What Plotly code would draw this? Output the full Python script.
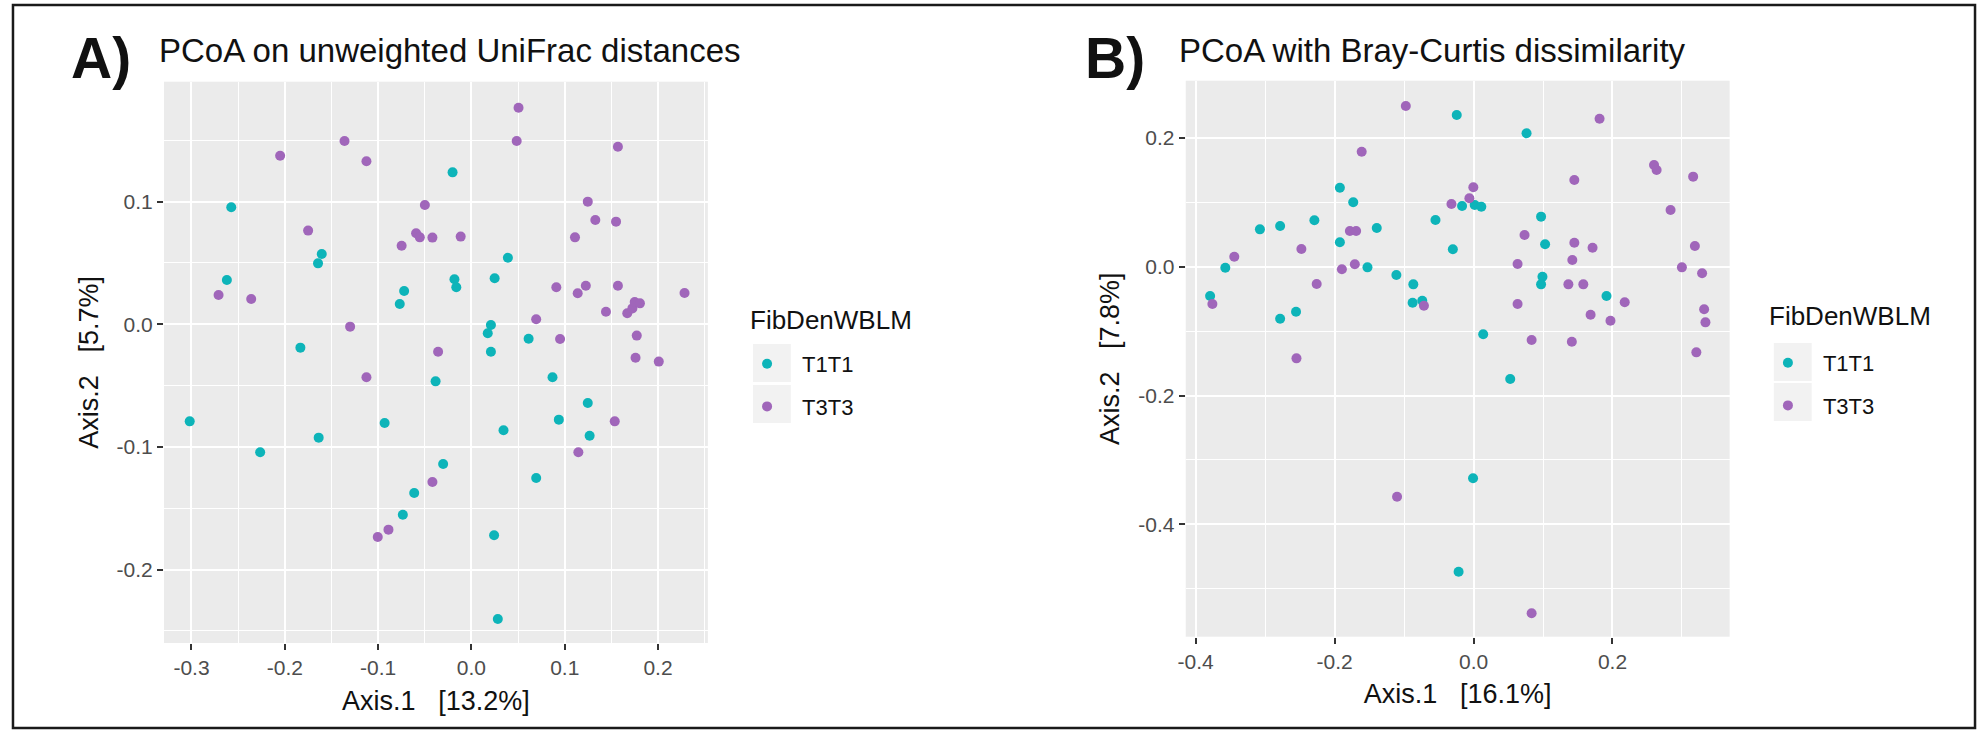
import plotly.graph_objects as go

W, H = 1980, 735

# ---------------- Panel A: PCoA on unweighted UniFrac ----------------
a_t1_x = [-0.0202, -0.2574, 0.0391, -0.1604, -0.1644, -0.2621, -0.0182, -0.0162,
          0.0249, -0.0721, -0.0768, 0.0209, 0.0175, 0.0613, -0.1833, 0.0209,
          -0.0384, 0.0869, -0.3019, -0.0930, 0.0344, 0.0937, 0.1247, 0.1267,
          -0.1637, -0.2264, -0.0303, 0.0694, -0.0613, -0.0735, 0.0243, 0.0283]
a_t1_y = [0.1239, 0.0954, 0.0543, 0.0573, 0.0497, 0.0361, 0.0367, 0.0302,
          0.0375, 0.0272, 0.0166, -0.0005, -0.0073, -0.0117, -0.0190, -0.0223,
          -0.0465, -0.0432, -0.0791, -0.0804, -0.0864, -0.0777, -0.0641, -0.0908,
          -0.0924, -0.1043, -0.1139, -0.1253, -0.1375, -0.1552, -0.1720, -0.2402]
a_t3_x = [0.0505, 0.0485, -0.1360, -0.2050, -0.1125, 0.1570, -0.0499, 0.1247,
          0.1328, 0.1550, -0.1750, -0.0593, -0.0553, -0.0418, -0.0115, -0.0748,
          0.1110, -0.2710, -0.2360, 0.0910, 0.1139, 0.1226, 0.1570, 0.2284,
          0.1442, 0.1670, 0.1725, 0.1750, 0.1806, 0.0694, -0.1300, -0.0357,
          0.0950, 0.1772, 0.1759, 0.2008, -0.1125, 0.1536, 0.1146, -0.0418,
          -0.0889, -0.1004]
a_t3_y = [0.1766, 0.1495, 0.1495, 0.1375, 0.1329, 0.1448, 0.0973, 0.1000,
          0.0851, 0.0837, 0.0764, 0.0742, 0.0709, 0.0707, 0.0715, 0.0641,
          0.0709, 0.0239, 0.0207, 0.0302, 0.0253, 0.0315, 0.0315, 0.0255,
          0.0103, 0.0090, 0.0130, 0.0182, 0.0171, 0.0041, -0.0019, -0.0223,
          -0.0120, -0.0092, -0.0272, -0.0304, -0.0432, -0.0791, -0.1043, -0.1285,
          -0.1674, -0.1734]

# ---------------- Panel B: PCoA with Bray-Curtis ----------------
b_t1_x = [-0.1924, -0.1732, -0.3075, -0.2784, -0.2291, -0.1393, -0.0548, -0.0298,
          -0.1924, -0.3573, -0.1527, -0.1111, -0.0867, -0.3792, -0.0877, -0.0738,
          -0.2555, -0.2784, -0.0165, 0.0017, 0.0112, 0.0972, 0.1030, 0.0992,
          0.0972, 0.1914, -0.0242, 0.0763, 0.0139, 0.0528, -0.0007, -0.0215]
b_t1_y = [0.1227, 0.1000, 0.0580, 0.0632, 0.0720, 0.0600, 0.0725, 0.0270,
          0.0379, -0.0016, -0.0010, -0.0129, -0.0274, -0.0455, -0.0559, -0.0528,
          -0.0699, -0.0807, 0.0943, 0.0958, 0.0932, 0.0777, 0.0348, -0.0155,
          -0.0274, -0.0455, 0.2356, 0.2071, -0.1050, -0.1744, -0.3286, -0.4736]
b_t3_x = [-0.1610, -0.0318, -0.1780, -0.1690, -0.2478, -0.3444, -0.1895, -0.1709,
          -0.2258, -0.3759, -0.0714, -0.0003, -0.0060, 0.1451, 0.2598, 0.2635,
          0.3161, 0.2836, 0.0734, 0.1451, 0.1713, 0.3186, 0.0634, 0.1422,
          0.2999, 0.3290, 0.1365, 0.1580, 0.0634, 0.2176, 0.1685, 0.1971,
          0.3319, 0.3338, -0.0975, 0.1814, 0.3207, -0.2549, 0.0836, 0.1415,
          -0.1101, 0.0836]
b_t3_y = [0.1786, 0.0974, 0.0554, 0.0554, 0.0275, 0.0155, -0.0040, 0.0037,
          -0.0269, -0.0580, -0.0606, 0.1233, 0.1062, 0.1346, 0.1580, 0.1502,
          0.1398, 0.0880, 0.0492, 0.0373, 0.0295, 0.0321, 0.0042, 0.0104,
          -0.0010, -0.0103, -0.0274, -0.0274, -0.0580, -0.0553, -0.0745, -0.0838,
          -0.0662, -0.0864, 0.2495, 0.2298, -0.1330, -0.1423, -0.1138, -0.1164,
          -0.3571, -0.5382]

# ---------------- ticks ----------------
a_xtick_vals = [-0.3, -0.2, -0.1, 0.0, 0.1, 0.2]
a_xtick_text = ["-0.3", "-0.2", "-0.1", "0.0", "0.1", "0.2"]
a_xminor = [-0.25, -0.15, -0.05, 0.05, 0.15, 0.25]
a_ytick_vals = [-0.2, -0.1, 0.0, 0.1]
a_ytick_text = ["-0.2", "-0.1", "0.0", "0.1"]
a_yminor = [-0.25, -0.15, -0.05, 0.05, 0.15]

b_xtick_vals = [-0.4, -0.2, 0.0, 0.2]
b_xtick_text = ["-0.4", "-0.2", "0.0", "0.2"]
b_xminor = [-0.3, -0.1, 0.1, 0.3]
b_ytick_vals = [-0.4, -0.2, 0.0, 0.2]
b_ytick_text = ["-0.4", "-0.2", "0.0", "0.2"]
b_yminor = [-0.5, -0.3, -0.1, 0.1]

groups = ["T1T1", "T3T3"]
legend_title = "FibDenWBLM"
TEAL = "#0DB4B9"
PURPLE = "#A066BA"
FONT = "Liberation Sans, Arial, sans-serif"


def fx(p):
    return p / W


def fy(p):
    return 1 - p / H


fig = go.Figure()
for name, xs, ys, col in [(groups[0], a_t1_x, a_t1_y, TEAL), (groups[1], a_t3_x, a_t3_y, PURPLE)]:
    fig.add_trace(go.Scatter(x=xs, y=ys, mode="markers", name=name,
                             marker=dict(color=col, size=10, line=dict(width=0)),
                             xaxis="x", yaxis="y", legend="legend", legendgroup="a" + name))
for name, xs, ys, col in [(groups[0], b_t1_x, b_t1_y, TEAL), (groups[1], b_t3_x, b_t3_y, PURPLE)]:
    fig.add_trace(go.Scatter(x=xs, y=ys, mode="markers", name=name,
                             marker=dict(color=col, size=10, line=dict(width=0)),
                             xaxis="x2", yaxis="y2", legend="legend2", legendgroup="b" + name))

tickfont = dict(family=FONT, size=21, color="#4D4D4D")
titlefont = dict(family=FONT, size=27, color="#111111")


def axis(domain, rng, vals, text, minor, title, anchor, standoff):
    return dict(domain=domain, range=rng, anchor=anchor, tickmode="array",
                tickvals=vals, ticktext=text, showgrid=True, gridcolor="white",
                gridwidth=2.4, zeroline=False, showline=False, ticks="outside",
                ticklen=6, tickwidth=2, tickcolor="#333333", tickfont=tickfont,
                minor=dict(tickmode="array", tickvals=minor, showgrid=True,
                           gridcolor="white", gridwidth=1.1, ticks=""),
                title=dict(text=title, font=titlefont, standoff=standoff),
                fixedrange=True)


legfont = dict(family=FONT, size=22, color="#111111")
fig.update_layout(
    width=W, height=H, margin=dict(l=0, r=0, t=0, b=0),
    paper_bgcolor="white", plot_bgcolor="#EBEBEB",
    font=dict(family=FONT),
    xaxis=axis([fx(156.6), fx(702.7)], [-0.3295, 0.2534], a_xtick_vals, a_xtick_text,
               a_xminor, "Axis.1   [13.2%]", "y", 12),
    yaxis=axis([fy(643), fy(81.7)], [-0.2598, 0.1978], a_ytick_vals, a_ytick_text,
               a_yminor, "Axis.2   [5.7%]", "x", 10),
    xaxis2=axis([fx(1182.5), fx(1728.6)], [-0.4143, 0.3686], b_xtick_vals, b_xtick_text,
                b_xminor, "Axis.1   [16.1%]", "y2", 12),
    yaxis2=axis([fy(636.7), fy(80.7)], [-0.5745, 0.2888], b_ytick_vals, b_ytick_text,
                b_yminor, "Axis.2   [7.8%]", "x2", 10),
    legend=dict(x=fx(727), y=fy(343), xanchor="left", yanchor="top",
                bgcolor="rgba(0,0,0,0)", tracegroupgap=11, itemwidth=60, font=legfont),
    legend2=dict(x=fx(1752), y=fy(342), xanchor="left", yanchor="top",
                 bgcolor="rgba(0,0,0,0)", tracegroupgap=11, itemwidth=60, font=legfont),
    showlegend=True,
)

# legend key backgrounds (ggplot style)
shapes = []
for cx, cys in [(767, [363, 404]), (1792, [362, 402])]:
    for cy in cys:
        shapes.append(dict(type="rect", xref="paper", yref="paper", layer="below",
                           x0=fx(cx - 19), x1=fx(cx + 19), y0=fy(cy + 19), y1=fy(cy - 19),
                           fillcolor="#F2F2F2", line=dict(width=0)))
# outer frame
shapes.append(dict(type="rect", xref="paper", yref="paper", x0=fx(5), x1=fx(1975),
                   y0=fy(728), y1=fy(5), line=dict(color="#1A1A1A", width=2.5),
                   fillcolor="rgba(0,0,0,0)"))
fig.update_layout(shapes=shapes)

annos = [
    dict(text="<b>A)</b>", x=fx(61), y=fy(58), xanchor="left", yanchor="middle",
         font=dict(family=FONT, size=57, color="#111111")),
    dict(text="<b>B)</b>", x=fx(1079), y=fy(58), xanchor="left", yanchor="middle",
         font=dict(family=FONT, size=57, color="#111111")),
    dict(text="PCoA on unweighted UniFrac distances", x=fx(150), y=fy(51),
         xanchor="left", yanchor="middle", font=dict(family=FONT, size=33, color="#111111")),
    dict(text="PCoA with Bray-Curtis dissimilarity", x=fx(1174), y=fy(51),
         xanchor="left", yanchor="middle", font=dict(family=FONT, size=33, color="#111111")),
    dict(text=legend_title, x=fx(743), y=fy(320), xanchor="left", yanchor="middle",
         font=dict(family=FONT, size=26, color="#111111")),
    dict(text=legend_title, x=fx(1766), y=fy(316), xanchor="left", yanchor="middle",
         font=dict(family=FONT, size=26, color="#111111")),
]
for a in annos:
    a.update(xref="paper", yref="paper", showarrow=False)
fig.update_layout(annotations=annos)

fig.write_html("out.html", config={"displayModeBar": False},
               post_script="document.body.style.margin='0px';")
